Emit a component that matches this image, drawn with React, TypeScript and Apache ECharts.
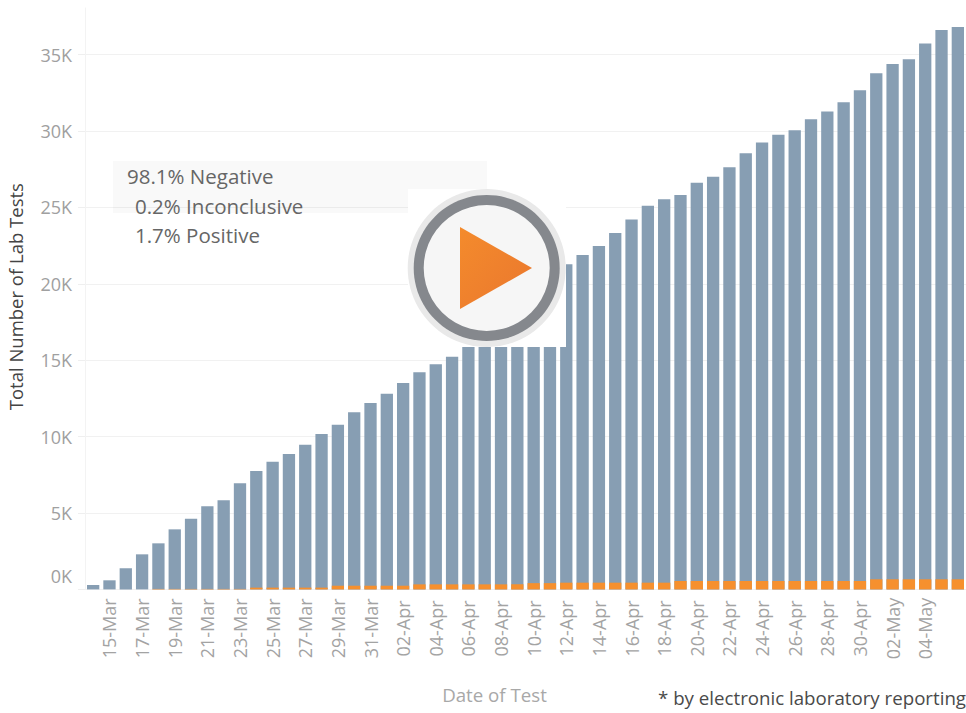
import React, { useEffect, useRef } from "react";
import * as echarts from "echarts";

const FONT = "'Open Sans', 'Noto Sans', sans-serif";

const dates = [
  "14-Mar","15-Mar","16-Mar","17-Mar","18-Mar","19-Mar","20-Mar","21-Mar","22-Mar","23-Mar",
  "24-Mar","25-Mar","26-Mar","27-Mar","28-Mar","29-Mar","30-Mar","31-Mar","01-Apr","02-Apr",
  "03-Apr","04-Apr","05-Apr","06-Apr","07-Apr","08-Apr","09-Apr","10-Apr","11-Apr","12-Apr",
  "13-Apr","14-Apr","15-Apr","16-Apr","17-Apr","18-Apr","19-Apr","20-Apr","21-Apr","22-Apr",
  "23-Apr","24-Apr","25-Apr","26-Apr","27-Apr","28-Apr","29-Apr","30-Apr","01-May","02-May",
  "03-May","04-May","05-May","06-May",
];

const totalTests = [
  288, 595, 1380, 2295, 3015, 3930, 4630, 5440, 5830, 6940,
  7750, 8360, 8860, 9470, 10170, 10780, 11590, 12200, 12810, 13510,
  14210, 14730, 15230, 16000, 17000, 17700, 18500, 19400, 20300, 21280,
  21880, 22470, 23330, 24210, 25110, 25530, 25810, 26620, 27010, 27620,
  28540, 29240, 29760, 30050, 30770, 31270, 31880, 32660, 33780, 34390,
  34690, 35720, 36610, 36810,
];

const positiveTests = [
  0, 0, 0, 0, 30, 30, 30, 30, 30, 30,
  115, 115, 115, 115, 115, 240, 240, 240, 240, 240,
  330, 330, 330, 330, 330, 330, 330, 410, 410, 440,
  440, 440, 440, 440, 440, 440, 550, 550, 550, 550,
  550, 550, 550, 550, 550, 550, 550, 550, 660, 660,
  660, 660, 660, 660,
];

const statusLines = ["98.1% Negative", "0.2% Inconclusive", "1.7% Positive"];
const footnote = "* by electronic laboratory reporting";

export default function App() {
  const ref = useRef<HTMLDivElement>(null);
  useEffect(() => {
    document.body.style.margin = "0";
    const chart = echarts.init(ref.current!, null, { renderer: "svg" });
    chart.setOption({
      animation: false,
      backgroundColor: "#ffffff",
      grid: { left: 85, right: 0, top: 8, height: 581.4, outerBoundsMode: "none" },
      xAxis: {
        type: "category",
        data: dates,
        name: "Date of Test",
        nameLocation: "middle",
        nameGap: 96,
        nameTextStyle: { color: "#a8a8a8", fontSize: 18.7, fontFamily: FONT, padding: [0, 62, 0, 0] },
        axisLine: { show: false },
        axisTick: { show: false },
        axisLabel: {
          rotate: 90,
          interval: (i: number) => i % 2 === 1 && i <= 51,
          align: "center",
          verticalAlign: "middle",
          margin: 39,
          color: "#a3a3a3",
          fontSize: 18,
          fontFamily: FONT,
        },
      },
      yAxis: {
        type: "value",
        min: 0,
        max: 38050,
        interval: 5000,
        name: "Total Number of Lab Tests",
        nameLocation: "middle",
        nameGap: 60,
        nameTextStyle: { color: "#444444", fontSize: 18.5, fontFamily: FONT, fontWeight: 500, padding: [0, 0, 0, 4] },
        axisLine: { show: true, lineStyle: { color: "#f3f3f3", width: 1 } },
        axisTick: { show: true, length: 7, lineStyle: { color: "#efefef" } },
        splitLine: { show: true, showMaxLine: false, lineStyle: { color: "#f1f1f1", width: 1 } },
        axisLabel: {
          margin: 13,
          showMaxLabel: false,
          color: "#a0a0a0",
          fontSize: 18,
          fontFamily: FONT,
          formatter: (v: number) => (v === 0 ? "{zero|0K}" : `${v / 1000}K`),
          rich: { zero: { color: "#a0a0a0", fontSize: 18, fontFamily: FONT, padding: [0, 0, 26, 0] } },
        },
      },
      series: [
        {
          name: "Negative",
          type: "bar",
          data: totalTests,
          barWidth: 12.3,
          barGap: "-100%",
          itemStyle: { color: "#879eb3" },
        },
        {
          name: "Positive",
          type: "bar",
          data: positiveTests,
          barWidth: 12.3,
          barGap: "-100%",
          itemStyle: { color: "#f6902e" },
        },
      ],
      graphic: {
        elements: [
          { type: "rect", z: 100, shape: { x: 113, y: 161, width: 374, height: 52 }, style: { fill: "rgba(0,0,0,0.025)" } },
          { type: "rect", z: 101, shape: { x: 408, y: 189, width: 158, height: 158 }, style: { fill: "#ffffff" } },
          { type: "circle", z: 102, shape: { cx: 486.7, cy: 268, r: 79 }, style: { fill: "#e9e9e9" } },
          { type: "circle", z: 103, shape: { cx: 486.7, cy: 268, r: 73 }, style: { fill: "#85888d" } },
          { type: "circle", z: 104, shape: { cx: 486.7, cy: 268, r: 63 }, style: { fill: "#f6f6f6" } },
          {
            type: "polygon", z: 105,
            shape: { points: [[460, 227], [460, 309], [532, 268]] },
            style: {
              fill: new echarts.graphic.LinearGradient(0, 0, 1, 1, [
                { offset: 0, color: "#f48b2c" },
                { offset: 1, color: "#ea772e" },
              ]),
            },
          },
          { type: "text", z: 106, x: 127, y: 176, style: { text: statusLines[0], fill: "#666666", font: `20.5px ${FONT}`, verticalAlign: "middle" } },
          { type: "text", z: 106, x: 135, y: 206, style: { text: statusLines[1], fill: "#666666", font: `20.5px ${FONT}`, verticalAlign: "middle" } },
          { type: "text", z: 106, x: 135, y: 235, style: { text: statusLines[2], fill: "#666666", font: `20.5px ${FONT}`, verticalAlign: "middle" } },
          { type: "text", z: 106, x: 966, y: 697, style: { text: footnote, fill: "#4a4a4a", font: `18.7px ${FONT}`, align: "right", verticalAlign: "middle" } },
        ],
      },
    });
    return () => chart.dispose();
  }, []);
  return <div ref={ref} style={{ width: 966, height: 713 }} />;
}
